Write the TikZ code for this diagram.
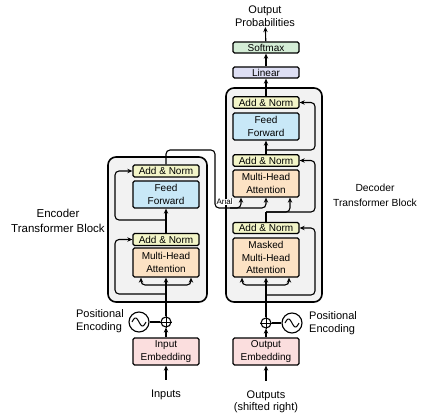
\documentclass[tikz,border=0pt]{standalone}
\usepackage{fontspec}
\setmainfont{Liberation Sans}
\usetikzlibrary{arrows.meta}
\definecolor{cAN}{RGB}{243,245,200}
\definecolor{cFF}{RGB}{200,232,247}
\definecolor{cAttn}{RGB}{252,226,196}
\definecolor{cEmb}{RGB}{251,222,222}
\definecolor{cSoft}{RGB}{212,237,214}
\definecolor{cLin}{RGB}{222,223,244}
\definecolor{cBlock}{RGB}{242,242,242}
\begin{document}
\begin{tikzpicture}[x=1pt,y=-1pt,
  blockbox/.style={draw, line width=1.6pt, rounded corners=8pt, fill=cBlock, inner sep=0pt},
  unit/.style={draw, line width=1.3pt, rounded corners=1.5pt, align=center, inner sep=0pt, font=\fontsize{10}{12.3}\selectfont, minimum width=66pt},
  conn/.style={line width=1.1pt, rounded corners=4pt},
  arr/.style={conn, -{Stealth[length=5pt,width=4.4pt]}},
  lbl/.style={font=\fontsize{11}{13}\selectfont, align=center, inner sep=0pt},
  ring/.style={circle, draw, line width=1.1pt, inner sep=0pt},
]
\useasboundingbox (0,0) rectangle (434,420);

% ---------- blocks ----------
\node[blockbox, minimum width=99pt, minimum height=145pt] (encblock) at (157.5,229.5) {};
\node[blockbox, minimum width=96pt, minimum height=214pt] (decblock) at (274,195) {};

% ---------- encoder ----------
\node[unit, fill=cAN, minimum height=12pt] (encAN2) at (166,171) {Add \& Norm};
\node[unit, fill=cFF, minimum height=27pt] (encFF) at (166,194.5) {Feed\\Forward};
\node[unit, fill=cAN, minimum height=12pt] (encAN1) at (166,239.5) {Add \& Norm};
\node[unit, fill=cAttn, minimum height=29pt] (encMHA) at (166,262.5) {Multi-Head\\Attention};
\node[unit, fill=cEmb, minimum height=27pt] (inemb) at (166,351.5) {Input\\Embedding};
\node[ring, minimum size=10pt] (encplus) at (166,322) {};
\draw[line width=0.9pt] (encplus.north) -- (encplus.south) (encplus.west) -- (encplus.east);
\node[ring, minimum size=20pt] (encpe) at (139,322) {};
\draw[line width=1pt] plot[domain=-7:7, samples=40, smooth] ({139+\x},{322+4*sin(\x/7*180)});
\node[lbl, align=left, anchor=east] (encpetext) at (124,321) {Positional\\Encoding};
\node[lbl] (inputs) at (166,395) {Inputs};
\node[lbl, font=\fontsize{11.5}{15}\selectfont] (enclabel) at (58,221) {Encoder\\Transformer Block};

% ---------- decoder ----------
\node[unit, fill=cAN, minimum height=11.5pt] (decAN3) at (266,102.5) {Add \& Norm};
\node[unit, fill=cFF, minimum height=27pt] (decFF) at (266,126.5) {Feed\\Forward};
\node[unit, fill=cAN, minimum height=11.5pt] (decAN2) at (266,160.5) {Add \& Norm};
\node[unit, fill=cAttn, minimum height=27pt] (decMHA) at (266,183.5) {Multi-Head\\Attention};
\node[unit, fill=cAN, minimum height=11pt] (decAN1) at (266,228) {Add \& Norm};
\node[unit, fill=cAttn, minimum height=39pt] (decMMHA) at (266,257.5) {Masked\\Multi-Head\\Attention};
\node[unit, fill=cLin, minimum height=11pt] (linear) at (266,72.5) {Linear};
\node[unit, fill=cSoft, minimum height=11pt] (softmax) at (266,47.5) {Softmax};
\node[lbl] (outprob) at (265,16.5) {Output\\Probabilities};
\node[unit, fill=cEmb, minimum height=27pt] (outemb) at (266,351.5) {Output\\Embedding};
\node[ring, minimum size=10pt] (decplus) at (266,323) {};
\draw[line width=0.9pt] (decplus.north) -- (decplus.south) (decplus.west) -- (decplus.east);
\node[ring, minimum size=20pt] (decpe) at (292,323) {};
\draw[line width=1pt] plot[domain=-7:7, samples=40, smooth] ({292+\x},{323+4*sin(\x/7*180)});
\node[lbl, align=left, anchor=west] (decpetext) at (309,323) {Positional\\Encoding};
\node[lbl, font=\fontsize{11}{12}\selectfont] (outputs) at (266,402) {Outputs\\(shifted right)};
\node[lbl, font=\fontsize{10.3}{15}\selectfont] (declabel) at (375,195.5) {Decoder\\Transformer Block};

\node[font=\fontsize{8}{9}\selectfont, fill=white, inner sep=0.3pt] (arial) at (224.5,202) {Arial};

% ---------- encoder connectors ----------
\draw[arr, shorten <=10pt] (inputs) -- (inemb);
\draw[arr] (inemb) -- (encplus);
\draw[conn] (encpe) -- (encplus);
\draw[arr] (encplus) -- (encMHA);
\coordinate (encsplit) at (166,285);
\draw[arr] (encsplit) -| ([xshift=-25pt]encMHA.south);
\draw[arr] (encsplit) -| ([xshift=25pt]encMHA.south);
\coordinate (encres1) at (166,294);
\draw[arr] (encres1) -- (115,294) |- (encAN1.west);
\draw[arr] (encAN1) -- (encFF);
\coordinate (encres2) at (166,220);
\draw[arr] (encres2) -- (115,220) |- (encAN2.west);
\draw[arr] (encAN2) -- (166,150) -- (215,150) -- (215,208) -| (decMHA.south);
\draw[arr] (230,208) -| ([xshift=-25pt]decMHA.south);

% ---------- decoder connectors ----------
\draw[arr, shorten <=10pt] (outputs) -- (outemb);
\draw[arr] (outemb) -- (decplus);
\draw[conn] (decpe) -- (decplus);
\draw[arr] (decplus) -- (decMMHA);
\coordinate (decsplit) at (266,285);
\draw[arr] (decsplit) -| ([xshift=-24pt]decMMHA.south);
\draw[arr] (decsplit) -| ([xshift=23pt]decMMHA.south);
\coordinate (decres1) at (266,295);
\draw[arr] (decres1) -- (315,295) |- (decAN1.east);
\coordinate (decq) at (266,212);
\draw[conn] (decAN1) -- (decq);
\draw[arr] (decq) -- (315,212) |- (decAN2.east);
\draw[arr] (decq) -| ([xshift=24pt]decMHA.south);
\draw[arr] (decAN2) -- (decFF);
\coordinate (decres3) at (266,150);
\draw[arr] (decres3) -- (315,150) |- (decAN3.east);
\draw[arr] (decAN3) -- (linear);
\draw[arr] (linear) -- (softmax);
\draw[arr] (softmax) -- (outprob);
\end{tikzpicture}
\end{document}
